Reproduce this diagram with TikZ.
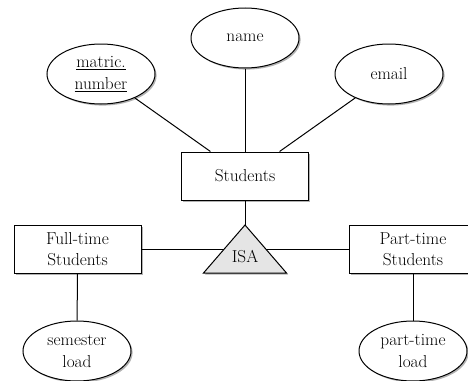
\documentclass[tikz,border=0pt]{standalone}
\usetikzlibrary{shapes.geometric,shadows}
\begin{document}
\begin{tikzpicture}[x=1pt,y=-1pt,
  label font/.style={font=\fontsize{17.3}{21.5}\selectfont},
  base/.style={draw, line width=1pt, fill=white,
    drop shadow={shadow xshift=1.6pt, shadow yshift=-1.6pt, fill=black, opacity=0.3},
    label font, align=center, inner sep=0pt},
  attr/.style={base, ellipse, minimum width=108pt, minimum height=60pt},
  entity/.style={base, rectangle, minimum width=127pt, minimum height=48pt},
  isabox/.style={draw, line width=1pt, fill=gray!20, line join=miter,
    drop shadow={shadow xshift=1.6pt, shadow yshift=-1.6pt, fill=black, opacity=0.3}},
  link/.style={line width=1pt}]
\useasboundingbox (0,0) rectangle (468,380);
\clip (0,0) rectangle (468,380);

% attributes of the superclass
\node[attr] (matric) at (101,74) {\underline{matric.}\\\underline{number}};
\node[attr] (name) at (245,38) {name};
\node[attr] (email) at (389,74) {email};

% entities
\node[entity] (stud) at (245,176) {Students};
\node[entity] (full) at (77.5,249) {Full-time\\Students};
\node[entity] (part) at (413,249) {Part-time\\Students};

% subclass attributes
\node[attr] (sem) at (77,351) {semester\\load};
\node[attr] (ptload) at (413,351) {part-time\\load};

% ISA triangle
\coordinate (isatop) at (245,225);
\coordinate (isabl) at (203.5,273);
\coordinate (isabr) at (286.5,273);
\coordinate (isal) at (224.25,249);
\coordinate (isar) at (265.75,249);
\path[isabox] (isatop) -- (isabr) -- (isabl) -- cycle;
\node[label font, inner sep=0pt] (isa) at (245,257) {ISA};

% connectors
\draw[link] (matric) -- (stud);
\draw[link] (name) -- (stud);
\draw[link] (email) -- (stud);
\draw[link] (stud) -- (isatop);
\draw[link] (full.east) -- (isal);
\draw[link] (part.west) -- (isar);
\draw[link] (full) -- (sem);
\draw[link] (part) -- (ptload);
\end{tikzpicture}
\end{document}
